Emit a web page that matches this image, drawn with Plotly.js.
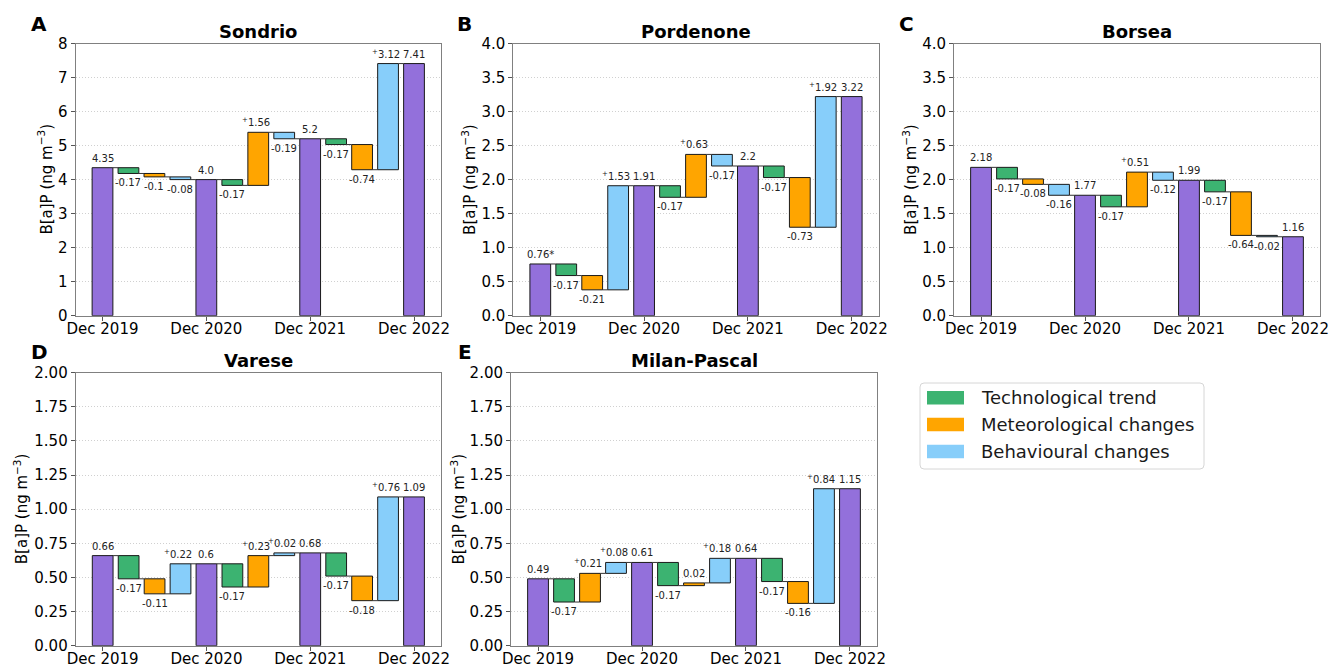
<!DOCTYPE html>
<html><head><meta charset="utf-8">
<script src="https://cdn.plot.ly/plotly-3.0.1.min.js"></script>
<style>html,body{margin:0;padding:0;background:#fff}#chart{width:1330px;height:665px}</style>
</head><body><div id="chart"></div>
<script>
// ---------- data ----------
const periods = ['Dec 2019', 'Dec 2020', 'Dec 2021', 'Dec 2022'];
const components = ['Technological trend', 'Meteorological changes', 'Behavioural changes'];

const siteNames = ['Sondrio', 'Pordenone', 'Borsea', 'Varese', 'Milan-Pascal'];
const panelLetters = ['A', 'B', 'C', 'D', 'E'];

// yearly totals (Dec 2019 .. Dec 2022)
const sondrioTotals   = [4.35, 4.0, 5.2, 7.41];
const pordenoneTotals = [0.76, 1.91, 2.2, 3.22];
const borseaTotals    = [2.18, 1.77, 1.99, 1.16];
const vareseTotals    = [0.66, 0.6, 0.68, 1.09];
const milanTotals     = [0.49, 0.61, 0.64, 1.15];

// changes per interval: [tech, met, beh] x 3 intervals
const sondrioChanges   = [-0.17, -0.10, -0.08,  -0.17, 1.56, -0.19,  -0.17, -0.74, 3.12];
const pordenoneChanges = [-0.17, -0.21, 1.53,   -0.17, 0.63, -0.17,  -0.17, -0.73, 1.92];
const borseaChanges    = [-0.17, -0.08, -0.16,  -0.17, 0.51, -0.12,  -0.17, -0.64, -0.02];
const vareseChanges    = [-0.17, -0.11, 0.22,   -0.17, 0.23, 0.02,   -0.17, -0.18, 0.76];
const milanChanges     = [-0.17, 0.21, 0.08,    -0.17, 0.02, 0.18,   -0.17, -0.16, 0.84];

// bar labels as printed
const sondrioLabels   = ['4.35', '-0.17', '-0.1', '-0.08', '4.0', '-0.17', '+1.56', '-0.19', '5.2', '-0.17', '-0.74', '+3.12', '7.41'];
const pordenoneLabels = ['0.76*', '-0.17', '-0.21', '+1.53', '1.91', '-0.17', '+0.63', '-0.17', '2.2', '-0.17', '-0.73', '+1.92', '3.22'];
const borseaLabels    = ['2.18', '-0.17', '-0.08', '-0.16', '1.77', '-0.17', '+0.51', '-0.12', '1.99', '-0.17', '-0.64', '-0.02', '1.16'];
const vareseLabels    = ['0.66', '-0.17', '-0.11', '+0.22', '0.6', '-0.17', '+0.23', '+0.02', '0.68', '-0.17', '-0.18', '+0.76', '1.09'];
const milanLabels     = ['0.49', '-0.17', '+0.21', '+0.08', '0.61', '-0.17', '0.02', '+0.18', '0.64', '-0.17', '-0.16', '+0.84', '1.15'];

const yMax = [8, 4, 4, 2, 2];
const yStep = [1, 0.5, 0.5, 0.25, 0.25];
const yFmt = [0, 1, 1, 2, 2];

const allTotals = [sondrioTotals, pordenoneTotals, borseaTotals, vareseTotals, milanTotals];
const allChanges = [sondrioChanges, pordenoneChanges, borseaChanges, vareseChanges, milanChanges];
const allLabels = [sondrioLabels, pordenoneLabels, borseaLabels, vareseLabels, milanLabels];

// ---------- styling ----------
const colTotal = '#9370DB';
const colComp = ['#3CB371', '#FFA500', '#87CEFA'];
const FONT = 'DejaVu Sans, Liberation Sans, sans-serif';
const W = 1330, H = 665;
const fx = p => p / W;
const fy = p => 1 - p / H;

// subplot pixel boxes [left, right, top, bottom]
const boxes = [
  [75.5, 441, 43.5, 315.7],
  [513.3, 878.7, 43.5, 315.7],
  [954, 1320, 43.5, 315.7],
  [75.7, 441, 372.7, 645.7],
  [511, 877, 372.7, 645.7]
];
const yTitleX = [45, 468.3, 909.3, 21, 458.3];
const letterPos = [[39, 24], [464, 24], [906, 24], [39, 352], [465, 352]];

const traces = [];
const layout = {
  width: W, height: H,
  margin: {l: 0, r: 0, t: 0, b: 0},
  paper_bgcolor: '#fff', plot_bgcolor: '#fff',
  showlegend: false,
  font: {family: FONT, color: '#000'},
  annotations: [], shapes: []
};

function fmtLabel(t) {
  return t.charAt(0) === '+' ? '<sup>+</sup>' + t.slice(1) : t;
}

for (let s = 0; s < 5; s++) {
  const xs = [], ys = [], bases = [], cols = [];
  const levels = [];
  const ax = s === 0 ? '' : String(s + 1);
  let run = 0, ci = 0;
  for (let i = 0; i < 13; i++) {
    xs.push(i);
    let ly, above;
    if (i % 4 === 0) {
      const t = allTotals[s][i / 4];
      bases.push(0); ys.push(t); cols.push(colTotal);
      run = t;
      ly = t; above = true;
    } else {
      const c = allChanges[s][ci];
      const comp = (i % 4) - 1;
      bases.push(run); ys.push(c); cols.push(colComp[comp]);
      run = +(run + c).toFixed(4);
      ly = run; above = c >= 0;
      ci++;
    }
    levels.push(run);
    const lbl = allLabels[s][i];
    layout.annotations.push({
      xref: 'x' + ax, yref: 'y' + ax, x: i, y: ly,
      text: fmtLabel(lbl), showarrow: false,
      xanchor: 'center', yanchor: above ? 'bottom' : 'top',
      yshift: above ? 3 : -3, xshift: lbl.charAt(0) === '+' ? -2.5 : 0,
      borderpad: 0,
      font: {family: FONT, size: 10, color: '#222'}
    });
  }
  const cx = [], cy = [];
  for (let i = 0; i < 12; i++) {
    cx.push(i + 0.4, i + 0.6, null);
    cy.push(levels[i], levels[i], null);
  }
  traces.push({
    type: 'scatter', mode: 'lines', x: cx, y: cy,
    xaxis: 'x' + ax, yaxis: 'y' + ax,
    line: {color: '#333', width: 1}, hoverinfo: 'skip'
  });
  traces.push({
    type: 'bar', x: xs, y: ys, base: bases, width: 0.8,
    xaxis: 'x' + ax, yaxis: 'y' + ax,
    marker: {color: cols, line: {color: '#1a1a1a', width: 1}}
  });

  const b = boxes[s];
  const tickv = [];
  for (let v = 0; v <= yMax[s] + 1e-9; v += yStep[s]) tickv.push(+v.toFixed(3));
  layout['xaxis' + ax] = {
    domain: [fx(b[0]), fx(b[1])], anchor: 'y' + ax,
    range: [-1.04, 13.04], tickvals: [0, 4, 8, 12], ticktext: periods,
    showgrid: false, zeroline: false,
    showline: true, mirror: true, linecolor: '#808080', linewidth: 1,
    ticks: 'outside', ticklen: 4, tickcolor: '#555', tickwidth: 1,
    ticklabelstandoff: -5,
    tickfont: {family: FONT, size: 15, color: '#000'},
    automargin: false, fixedrange: true
  };
  layout['yaxis' + ax] = {
    domain: [fy(b[3]), fy(b[2])], anchor: 'x' + ax,
    range: [0, yMax[s]], tickvals: tickv,
    ticktext: tickv.map(v => v.toFixed(yFmt[s])),
    showgrid: true, gridcolor: '#c4c4c4', griddash: '1px,2px', gridwidth: 0.8,
    zeroline: false,
    showline: true, mirror: true, linecolor: '#808080', linewidth: 1,
    ticks: 'outside', ticklen: 4, tickcolor: '#555', tickwidth: 1,
    tickfont: {family: FONT, size: 15, color: '#000'},
    automargin: false, fixedrange: true
  };
  // title
  layout.annotations.push({
    xref: 'paper', yref: 'paper', x: fx((b[0] + b[1]) / 2), y: fy(b[2] - 12),
    text: '<b>' + siteNames[s] + '</b>', showarrow: false,
    xanchor: 'center', yanchor: 'middle',
    font: {family: FONT, size: 18, color: '#000'}
  });
  // panel letter
  layout.annotations.push({
    xref: 'paper', yref: 'paper', x: fx(letterPos[s][0]), y: fy(letterPos[s][1]),
    text: '<b>' + panelLetters[s] + '</b>', showarrow: false,
    xanchor: 'center', yanchor: 'middle',
    font: {family: FONT, size: 20, color: '#000'}
  });
  // y-axis title
  layout.annotations.push({
    xref: 'paper', yref: 'paper', x: fx(yTitleX[s]), y: fy((b[2] + b[3]) / 2),
    text: 'B[a]P (ng m<sup>\u22123</sup>)', showarrow: false, textangle: -90,
    xanchor: 'center', yanchor: 'middle',
    font: {family: FONT, size: 15, color: '#000'}
  });
}

// ---------- legend (drawn) ----------
const lg = {l: 920, r: 1204, t: 383, b: 469, rad: 4};
const lp = `M ${fx(lg.l + lg.rad)} ${fy(lg.t)} L ${fx(lg.r - lg.rad)} ${fy(lg.t)} Q ${fx(lg.r)} ${fy(lg.t)} ${fx(lg.r)} ${fy(lg.t + lg.rad)} ` +
  `L ${fx(lg.r)} ${fy(lg.b - lg.rad)} Q ${fx(lg.r)} ${fy(lg.b)} ${fx(lg.r - lg.rad)} ${fy(lg.b)} ` +
  `L ${fx(lg.l + lg.rad)} ${fy(lg.b)} Q ${fx(lg.l)} ${fy(lg.b)} ${fx(lg.l)} ${fy(lg.b - lg.rad)} ` +
  `L ${fx(lg.l)} ${fy(lg.t + lg.rad)} Q ${fx(lg.l)} ${fy(lg.t)} ${fx(lg.l + lg.rad)} ${fy(lg.t)} Z`;
layout.shapes.push({type: 'path', xref: 'paper', yref: 'paper', path: lp,
  line: {color: '#d6d6d6', width: 1}, fillcolor: 'rgba(255,255,255,0.8)'});
const rowY = [397.7, 424.5, 451.5];
components.forEach((name, k) => {
  layout.shapes.push({type: 'rect', xref: 'paper', yref: 'paper',
    x0: fx(927), x1: fx(964), y0: fy(rowY[k] - 6.7), y1: fy(rowY[k] + 6.7),
    fillcolor: colComp[k], line: {width: 0}});
  layout.annotations.push({xref: 'paper', yref: 'paper', x: fx(979), y: fy(rowY[k]),
    text: name, showarrow: false, xanchor: 'left', yanchor: 'middle',
    font: {family: FONT, size: 18, color: '#1a1a1a'}});
});

Plotly.newPlot('chart', traces, layout, {staticPlot: true, displayModeBar: false});
</script></body></html>
